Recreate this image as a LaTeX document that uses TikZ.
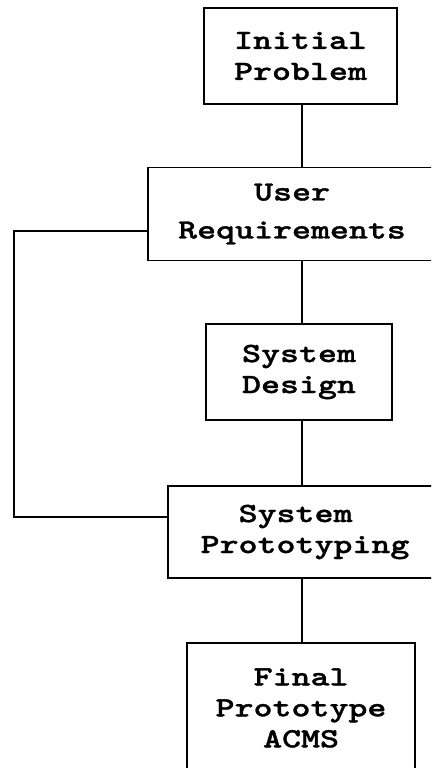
\documentclass[tikz,border=0pt]{standalone}
\usepackage{fontspec}
% bold slab-serif typewriter face, widened to a Courier-like pitch
\newfontfamily\typeface[FakeStretch=1.3,FakeBold=1.2]{lmmonolt10-bold.otf}
\begin{document}
\begin{tikzpicture}[x=1bp,y=-1bp,
  box/.style={draw,line width=1.8bp,inner sep=0pt,outer sep=0pt,align=left,
    font=\typeface\fontsize{27.8bp}{31bp}\selectfont},
  link/.style={line width=1.8bp}]
\useasboundingbox (0,0) rectangle (431,768);
\clip (0,0) rectangle (431,768);

% process boxes, top to bottom
\node[box,minimum width=193bp,minimum height=96bp] (init) at (300.5,56)
  {Initial\\Problem};
\node[box,minimum width=288bp,minimum height=93bp,
  font=\typeface\fontsize{27.8bp}{38bp}\selectfont] (ur) at (292,214)
  {\hspace*{76bp}User\\Requirements};
\node[box,minimum width=186bp,minimum height=96bp] (design) at (299,372)
  {System\\Design};
\node[box,minimum width=274bp,minimum height=92bp] (proto) at (305,532)
  {\hspace*{38bp}System\\Prototyping};
\node[box,minimum width=228bp,minimum height=130bp] (final) at (301,708)
  {\hspace*{38bp}Final\\Prototype\\\hspace*{47.5bp}ACMS};

% main vertical flow
\coordinate (spine) at (302,0);
\draw[link] (spine |- init.south) -- (spine |- ur.north);
\draw[link] (spine |- ur.south) -- (spine |- design.north);
\draw[link] (spine |- design.south) -- (spine |- proto.north);
\draw[link] (spine |- proto.south) -- (spine |- final.north);

% feedback loop on the left
\coordinate (fbtop) at (14,231);
\coordinate (fbbot) at (14,517);
\draw[link] (ur.west |- fbtop) -- (fbtop) -- (fbbot) -- (proto.west |- fbbot);
\end{tikzpicture}
\end{document}
